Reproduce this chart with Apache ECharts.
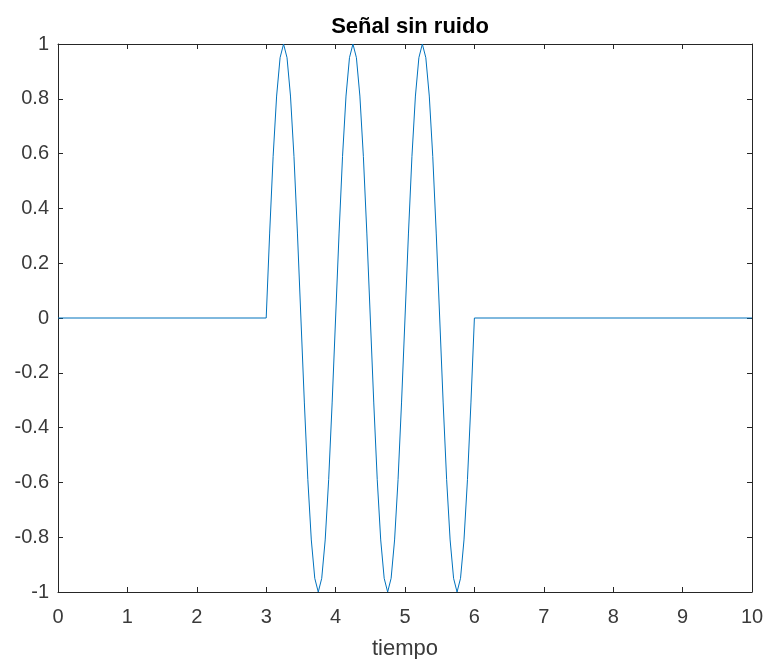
<!DOCTYPE html>
<html>
<head>
<meta charset="utf-8">
<script src="https://cdn.jsdelivr.net/npm/echarts@6/dist/echarts.min.js"></script>
<style>
  html, body { margin: 0; padding: 0; background: #fff; }
  #chart { width: 767px; height: 659px; }
</style>
</head>
<body>
<div id="chart"></div>
<script>
// Sample times (s) and signal amplitude
const tiempo = [
  0, 3.00, 3.05, 3.10, 3.15, 3.20, 3.25, 3.30, 3.35, 3.40, 3.45,
  3.50, 3.55, 3.60, 3.65, 3.70, 3.75, 3.80, 3.85, 3.90, 3.95,
  4.00, 4.05, 4.10, 4.15, 4.20, 4.25, 4.30, 4.35, 4.40, 4.45,
  4.50, 4.55, 4.60, 4.65, 4.70, 4.75, 4.80, 4.85, 4.90, 4.95,
  5.00, 5.05, 5.10, 5.15, 5.20, 5.25, 5.30, 5.35, 5.40, 5.45,
  5.50, 5.55, 5.60, 5.65, 5.70, 5.75, 5.80, 5.85, 5.90, 5.95,
  6.00, 10
];
const senal = [
  0, 0, 0.31, 0.59, 0.81, 0.95, 1.00, 0.95, 0.81, 0.59, 0.31,
  0, -0.31, -0.59, -0.81, -0.95, -1.00, -0.95, -0.81, -0.59, -0.31,
  0, 0.31, 0.59, 0.81, 0.95, 1.00, 0.95, 0.81, 0.59, 0.31,
  0, -0.31, -0.59, -0.81, -0.95, -1.00, -0.95, -0.81, -0.59, -0.31,
  0, 0.31, 0.59, 0.81, 0.95, 1.00, 0.95, 0.81, 0.59, 0.31,
  0, -0.31, -0.59, -0.81, -0.95, -1.00, -0.95, -0.81, -0.59, -0.31,
  0, 0
];

const xTicks = [0, 1, 2, 3, 4, 5, 6, 7, 8, 9, 10];
const yTicks = [-1, -0.8, -0.6, -0.4, -0.2, 0, 0.2, 0.4, 0.6, 0.8, 1];

const axisColor = '#262626';
const labelColor = '#3a3a3a';
const fontFamily = '"Liberation Sans", Arial, Helvetica, sans-serif';

const chart = echarts.init(document.getElementById('chart'), null, { renderer: 'canvas' });

const points = tiempo.map((t, i) => [t, senal[i]]);

function boxAxis(extra) {
  return Object.assign({
    type: 'value',
    axisLine: { show: true, onZero: false, lineStyle: { color: axisColor, width: 1 } },
    axisTick: { show: true, inside: true, length: 5, lineStyle: { color: axisColor, width: 1 } },
    splitLine: { show: false },
    axisLabel: { show: false }
  }, extra);
}

chart.setOption({
  animation: false,
  backgroundColor: '#ffffff',
  title: {
    text: 'Señal sin ruido',
    left: 405,
    top: 11,
    textAlign: 'center',
    textStyle: { fontFamily, fontSize: 22, fontWeight: 'bold', color: '#000' }
  },
  grid: { left: 58, right: 15, top: 44, bottom: 67, containLabel: false, outerBoundsMode: 'none' },
  xAxis: [
    boxAxis({
      position: 'bottom',
      min: xTicks[0], max: xTicks[xTicks.length - 1], interval: 1,
      axisLabel: {
        show: true, color: labelColor, fontFamily, fontSize: 20, margin: 15,
        formatter: v => String(v)
      },
      name: 'tiempo',
      nameLocation: 'middle',
      nameGap: 46,
      nameTextStyle: { fontFamily, fontSize: 22, color: labelColor }
    }),
    boxAxis({ position: 'top', min: 0, max: 10, interval: 1 })
  ],
  yAxis: [
    boxAxis({
      position: 'left',
      min: yTicks[0], max: yTicks[yTicks.length - 1], interval: 0.2,
      axisLabel: {
        show: true, color: labelColor, fontFamily, fontSize: 20, margin: 9,
        padding: [8, 0, 0, 0],
        formatter: v => String(Math.round(v * 10) / 10)
      }
    }),
    boxAxis({ position: 'right', min: -1, max: 1, interval: 0.2 })
  ],
  series: [{
    type: 'line',
    data: points,
    xAxisIndex: 0,
    yAxisIndex: 0,
    showSymbol: false,
    symbol: 'none',
    lineStyle: { color: '#0072BD', width: 1 },
    clip: true
  }]
});
</script>
</body>
</html>
